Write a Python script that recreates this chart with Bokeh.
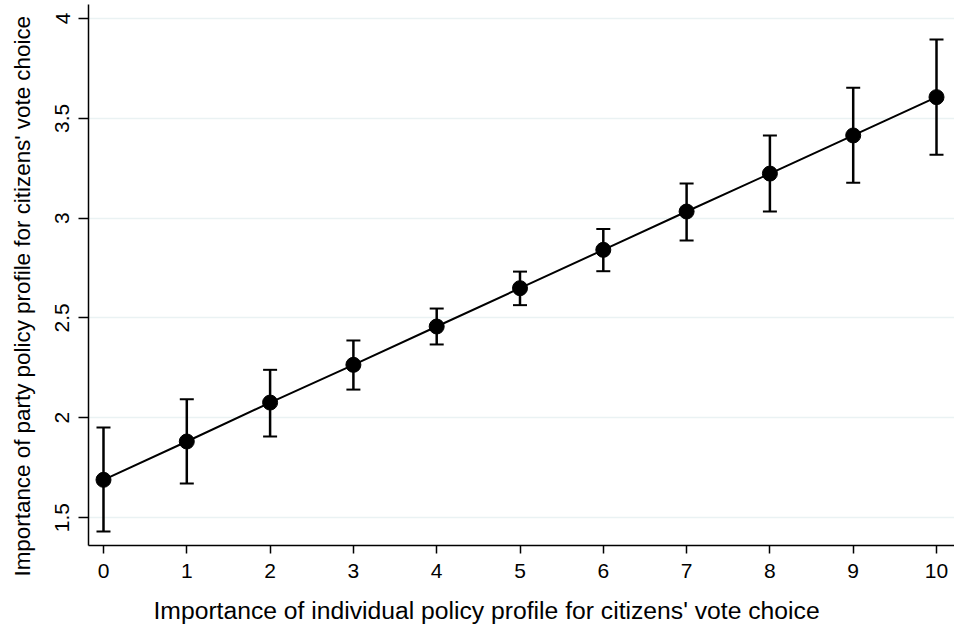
from bokeh.plotting import figure
from bokeh.models import ColumnDataSource, Whisker, TeeHead, Range1d, FixedTicker, Title
from bokeh.embed import file_html
from bokeh.resources import INLINE

x = [0, 1, 2, 3, 4, 5, 6, 7, 8, 9, 10]
mean = [1.689, 1.881, 2.076, 2.265, 2.457, 2.649, 2.841, 3.033, 3.223, 3.414, 3.606]
lower = [1.430, 1.670, 1.906, 2.141, 2.367, 2.564, 2.734, 2.888, 3.033, 3.177, 3.317]
upper = [1.951, 2.093, 2.240, 2.387, 2.547, 2.732, 2.946, 3.173, 3.414, 3.653, 3.895]

y_ticks = [1.5, 2, 2.5, 3, 3.5, 4]
x_ticks = x

x_title = "Importance of individual policy profile for citizens' vote choice"
y_title = "Importance of party policy profile for citizens' vote choice"

FONT = "Liberation Sans"

src = ColumnDataSource(dict(x=x, mean=mean, lower=lower, upper=upper))

p = figure(width=954, height=627, output_backend="svg", toolbar_location=None,
           x_range=Range1d(-0.18, 10.216), y_range=Range1d(1.360, 4.070),
           min_border_left=88, min_border_right=0, min_border_top=4, min_border_bottom=82)
p.outline_line_color = None
p.background_fill_color = "white"
p.border_fill_color = "white"

p.xgrid.grid_line_color = None
p.ygrid.grid_line_color = "#eaf2f3"
p.ygrid.grid_line_width = 1.5
p.ygrid.ticker = FixedTicker(ticks=y_ticks)

p.xaxis.ticker = FixedTicker(ticks=x_ticks)
p.yaxis.ticker = FixedTicker(ticks=y_ticks)
p.xaxis.minor_tick_line_color = None
p.yaxis.minor_tick_line_color = None

for ax in (p.xaxis, p.yaxis):
    ax.axis_line_color = "black"
    ax.axis_line_width = 1.5
    ax.major_tick_line_color = "black"
    ax.major_tick_line_width = 1.5
    ax.major_tick_in = 0
    ax.major_label_text_font = FONT
    ax.major_label_text_font_size = "21px"
    ax.major_label_text_color = "black"
    # invisible spacer label to push the real titles outward
    ax.axis_label = " "
    ax.axis_label_text_font_size = "1px"

p.xaxis.major_tick_out = 8
p.yaxis.major_tick_out = 10
p.yaxis.major_label_orientation = "parallel"
p.yaxis.major_label_standoff = 9
p.xaxis.major_label_standoff = 10
p.yaxis.axis_label_standoff = 14
p.xaxis.axis_label_standoff = 10

ytitle = Title(text=y_title, align="left", offset=-31, standoff=0,
               text_font=FONT, text_font_size="22.4px", text_font_style="normal",
               text_color="black")
p.add_layout(ytitle, "left")

xtitle = Title(text=x_title, align="left", offset=65, standoff=0,
               text_font=FONT, text_font_size="24.7px", text_font_style="normal",
               text_color="black")
p.add_layout(xtitle, "below")

w = Whisker(base="x", upper="upper", lower="lower", source=src,
            line_color="black", line_width=2.5,
            upper_head=TeeHead(size=14, line_color="black", line_width=2),
            lower_head=TeeHead(size=14, line_color="black", line_width=2))
p.add_layout(w)

p.line("x", "mean", source=src, line_color="black", line_width=2)
p.scatter("x", "mean", source=src, size=15, fill_color="black", line_color="black")

open("out.html", "w").write(file_html(p, INLINE))
